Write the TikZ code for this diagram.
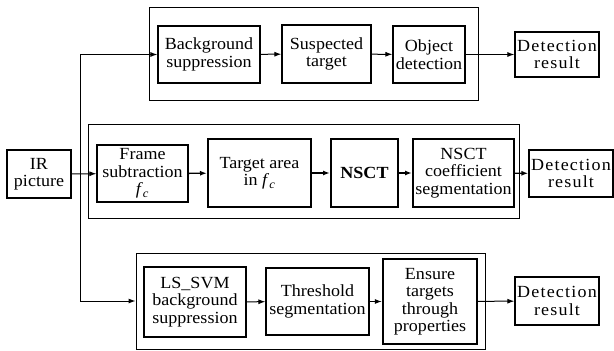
\documentclass[tikz,border=0pt]{standalone}
\usepackage{fontspec}
\setmainfont{Liberation Serif}[FakeStretch=1.06]
\usetikzlibrary{arrows.meta}
\newcommand{\fc}{\textit{f}\textsubscript{\textit{c}}}
\begin{document}
\begin{tikzpicture}[x=1pt,y=-1pt,
    font=\fontsize{17}{17.5}\selectfont,
    box/.style={draw,line width=1.2pt,align=center,inner sep=1pt},
    thkbox/.style={box,line width=2pt},
    grp/.style={draw,line width=0.9pt,inner sep=0pt},
    resbox/.style={box,font=\fontsize{17}{17.5}\selectfont\addfontfeature{LetterSpace=7}},
    arr/.style={-{Latex[length=7pt,width=5pt]},line width=1pt}]
\useasboundingbox (0,0) rectangle (614,351);
\node[box,minimum width=64,minimum height=48] (ir) at (39,174) {IR\\picture};
\node[grp,minimum width=329,minimum height=93] (grp1) at (313.5,53.5) {};
\node[grp,minimum width=431,minimum height=94] (grp2) at (303.5,171) {};
\node[grp,minimum width=349,minimum height=96] (grp3) at (310.5,301) {};
\node[box,minimum width=102,minimum height=57] (bg) at (209,54.5) {Background\\suppression};
\node[box,minimum width=89,minimum height=58] (sus) at (326.5,54) {Suspected\\target};
\node[box,minimum width=72,minimum height=57] (obj) at (429,54.5) {Object\\detection};
\node[resbox,minimum width=84,minimum height=45] (res1) at (557,54.5) {Detection\\result};
\node[box,minimum width=91,minimum height=57] (frm) at (142.5,173.5) {Frame\\subtraction\\\fc};
\node[thkbox,minimum width=103,minimum height=68] (tga) at (259.5,173) {Target area\\in \fc};
\node[thkbox,minimum width=67,minimum height=68] (nsct) at (364.5,173) {\textbf{NSCT}};
\node[thkbox,minimum width=101,minimum height=68] (coef) at (463.5,173) {NSCT\\coefficient\\segmentation};
\node[resbox,minimum width=84,minimum height=47] (res2) at (571,173.5) {Detection\\result};
\node[box,minimum width=102,minimum height=70] (lssvm) at (195,302) {LS\_SVM\\background\\suppression};
\node[box,minimum width=103,minimum height=67] (thr) at (317.5,301.5) {Threshold\\segmentation};
\node[thkbox,line width=2.4pt,minimum width=94,minimum height=85] (ens) at (430,301.5) {Ensure\\targets\\through\\properties};
\node[resbox,minimum width=84,minimum height=48] (res3) at (557,301) {Detection\\result};
\coordinate (tk) at (80,174);
\draw[arr] (ir) -- (frm);
\draw[arr] (tk) |- (bg);
\draw[arr] (tk) |- (grp3);
\draw[arr] (bg) -- (sus);
\draw[arr] (sus) -- (obj);
\draw[arr] (obj) -- (res1);
\draw[arr,line width=1.4pt] (frm) -- (tga);
\draw[arr,line width=1.4pt] (tga) -- (nsct);
\draw[arr,line width=1.4pt] (nsct) -- (coef);
\draw[arr,line width=1.4pt] (coef) -- (res2);
\draw[arr] (lssvm) -- (thr);
\draw[arr] (thr) -- (ens);
\draw[arr] (ens) -- (res3);
\end{tikzpicture}
\end{document}
